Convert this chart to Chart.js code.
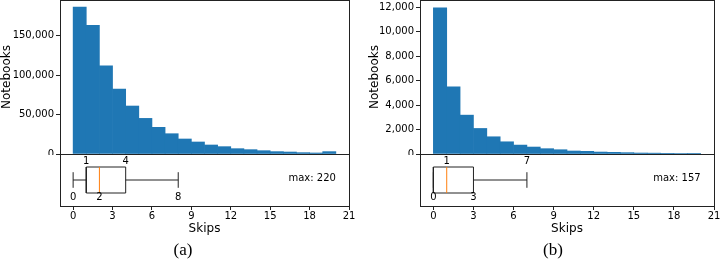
<!DOCTYPE html>
<html>
<head>
<meta charset="utf-8">
<script src="https://cdn.jsdelivr.net/npm/chart.js@4/dist/chart.umd.min.js"></script>
<style>
  body { margin: 0; background: #fff; }
  #wrap { position: relative; width: 720px; height: 261px; overflow: hidden; }
  canvas { position: absolute; }
  .cap { position: absolute; top: 240px; width: 60px; text-align: center; font-family: "Liberation Serif", serif; font-size: 17px; line-height: 20px; color: #000; }
</style>
</head>
<body>
<div id="wrap">
  <canvas id="histA" width="360" height="155" style="left:0;top:0"></canvas>
  <canvas id="boxA" width="360" height="82" style="left:0;top:154px"></canvas>
  <canvas id="histB" width="360" height="155" style="left:360px;top:0"></canvas>
  <canvas id="boxB" width="360" height="82" style="left:360px;top:154px"></canvas>
  <div class="cap" style="left:153px">(a)</div>
  <div class="cap" style="left:523px">(b)</div>
</div>
<script>
// histogram bins (left edges, width 1)
var bins = [0, 1, 2, 3, 4, 5, 6, 7, 8, 9, 10, 11, 12, 13, 14, 15, 16, 17, 18, 19];
var countsA = [186000, 162900, 111800, 82300, 60750, 45100, 33750, 25700, 19000, 15200, 11400, 9300, 6750, 5500, 4200, 3000, 2500, 1700, 1300, 3000];
var countsB = [11950, 5500, 3180, 2090, 1410, 1000, 730, 570, 435, 350, 245, 220, 160, 135, 110, 80, 70, 55, 45, 50];
var yTicksA = [0, 50000, 100000, 150000];
var yTicksB = [0, 2000, 4000, 6000, 8000, 10000, 12000];
var yMaxA = 195000;
var yMaxB = 12600;
var xTicks = [0, 3, 6, 9, 12, 15, 18, 21];

// box plot: whisker low, q1, median, q3, whisker high
var boxStatsA = [0, 1, 2, 4, 8];
var boxStatsB = [0, 0, 1, 3, 7];
var aboveA = [1, 4];
var belowA = [0, 2, 8];
var aboveB = [1, 7];
var belowB = [0, 3];
var maxA = 220;
var maxB = 157;

Chart.defaults.font.family = 'DejaVu Sans';
Chart.defaults.color = '#000';

var framePlugin = {
    id: 'frame',
    afterDraw: function (chart) {
        var a = chart.chartArea, ctx = chart.ctx;
        ctx.save();
        ctx.strokeStyle = '#222';
        ctx.lineWidth = 1;
        var x0 = Math.round(a.left) + 0.5, y0 = Math.round(a.top) + 0.5;
        var x1 = Math.round(a.right) + 0.5, y1 = Math.round(a.bottom) + 0.5;
        ctx.strokeRect(x0, y0, x1 - x0, y1 - y0);
        ctx.restore();
    }
};

function makeHist(id, counts, yTicks, yMax, padRight, titlePad) {
    new Chart(document.getElementById(id), {
        type: 'bar',
        data: {
            datasets: [{
                data: bins.map(function (b, i) { return { x: b + 0.5, y: counts[i] }; }),
                backgroundColor: '#1f77b4',
                borderWidth: 0,
                barPercentage: 1,
                categoryPercentage: 1
            }]
        },
        options: {
            responsive: false,
            animation: false,
            devicePixelRatio: 1,
            layout: { padding: { left: 0, right: padRight, top: 0, bottom: 1 } },
            plugins: { legend: { display: false }, tooltip: { enabled: false } },
            scales: {
                x: { type: 'linear', min: -1, max: 21, offset: false, display: false },
                y: {
                    min: 0,
                    max: yMax,
                    afterBuildTicks: function (s) { s.ticks = yTicks.map(function (v) { return { value: v }; }); },
                    afterFit: function (s) { s.width = 60; s.paddingTop = 0; s.paddingBottom = 0; },
                    ticks: {
                        font: { size: 10 },
                        color: '#000',
                        padding: 2,
                        callback: function (v) { return v.toLocaleString('en-US'); }
                    },
                    grid: { drawOnChartArea: false, tickLength: 4, color: '#222' },
                    border: { display: false },
                    title: { display: true, text: 'Notebooks', font: { size: 12 }, color: '#000', padding: { top: titlePad, bottom: 0 } }
                }
            }
        },
        plugins: [framePlugin]
    });
}

function seg(points, color) {
    return {
        data: points.map(function (p) { return { x: p[0], y: p[1] }; }),
        showLine: true,
        borderColor: color,
        borderWidth: 1,
        pointRadius: 0,
        fill: false
    };
}

function makeBox(id, stats, above, below, maxVal, padRight) {
    var lo = stats[0], q1 = stats[1], med = stats[2], q3 = stats[3], hi = stats[4];
    var yb = 0.25, yt = 0.75, ym = 0.5, c = 0.15;
    var dark = '#222';
    var labelPlugin = {
        id: 'boxLabels',
        afterDraw: function (chart) {
            var ctx = chart.ctx, xs = chart.scales.x, ys = chart.scales.y;
            ctx.save();
            ctx.fillStyle = '#000';
            ctx.font = '10px "DejaVu Sans"';
            ctx.textAlign = 'center';
            ctx.textBaseline = 'middle';
            above.forEach(function (v) { ctx.fillText(String(v), xs.getPixelForValue(v), ys.getPixelForValue(0.85)); });
            below.forEach(function (v) { ctx.fillText(String(v), xs.getPixelForValue(v), ys.getPixelForValue(0.17)); });
            ctx.textAlign = 'right';
            ctx.fillText('max: ' + maxVal, xs.getPixelForValue(20), ys.getPixelForValue(0.54));
            ctx.restore();
        }
    };
    new Chart(document.getElementById(id), {
        type: 'scatter',
        data: {
            datasets: [
                seg([[med, yb], [med, yt]], '#ff7f0e'),
                seg([[q1, yb], [q3, yb], [q3, yt], [q1, yt], [q1, yb]], dark),
                seg([[lo, ym], [q1, ym]], dark),
                seg([[q3, ym], [hi, ym]], dark),
                seg([[lo, ym - c], [lo, ym + c]], dark),
                seg([[hi, ym - c], [hi, ym + c]], dark)
            ]
        },
        options: {
            responsive: false,
            animation: false,
            devicePixelRatio: 1,
            layout: { padding: { left: 60, right: padRight, top: 0, bottom: 0 } },
            plugins: { legend: { display: false }, tooltip: { enabled: false } },
            scales: {
                x: {
                    type: 'linear', min: -1, max: 21, offset: false,
                    afterBuildTicks: function (s) { s.ticks = xTicks.map(function (v) { return { value: v }; }); },
                    afterFit: function (s) { s.height = 30; s.paddingLeft = 0; s.paddingRight = 0; },
                    ticks: { font: { size: 10 }, color: '#000', padding: 0, maxRotation: 0 },
                    grid: { drawOnChartArea: false, tickLength: 4, color: '#222' },
                    border: { display: false },
                    title: { display: true, text: 'Skips', font: { size: 12 }, color: '#000', padding: { top: 0, bottom: 0 } }
                },
                y: { min: 0, max: 1, display: false }
            }
        },
        plugins: [framePlugin, labelPlugin]
    });
}

makeHist('histA', countsA, yTicksA, yMaxA, 11, 0);
makeBox('boxA', boxStatsA, aboveA, belowA, maxA, 11);
makeHist('histB', countsB, yTicksB, yMaxB, 6, 8);
makeBox('boxB', boxStatsB, aboveB, belowB, maxB, 6);
</script>
</body>
</html>
